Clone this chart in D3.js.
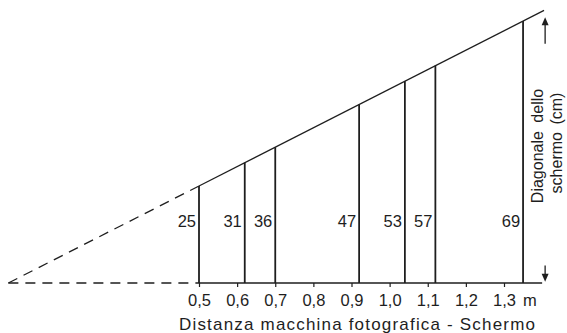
<!DOCTYPE html>
<html>
<head>
<meta charset="utf-8">
<script src="https://cdn.jsdelivr.net/npm/d3@7"></script>
<style>
  body { margin: 0; background: #fff; }
  text { font-family: "Liberation Sans", Arial, sans-serif; fill: #1e1e1e; }
</style>
</head>
<body>
<svg id="chart" width="567" height="333"></svg>
<script>
// distanza (m) e diagonale dello schermo (cm)
var distances = [0.5, 0.62, 0.7, 0.92, 1.04, 1.12, 1.35];
var diagonals = [25, 31, 36, 47, 53, 57, 69];

// tacche asse orizzontale
var tickValues = [0.5, 0.6, 0.7, 0.8, 0.9, 1.0, 1.1, 1.2, 1.3];
var tickLabels = ["0,5", "0,6", "0,7", "0,8", "0,9", "1,0", "1,1", "1,2", "1,3"];

// retta inclinata (origine -> fine)
var lineDist = [0, 1.405];
var lineDiag = [0, 71.8];

var svg = d3.select("#chart");
var ink = "#1e1e1e";

var x = d3.scaleLinear().domain([0.5, 1.3]).range([199, 504]);
var y = d3.scaleLinear().domain([0, 69]).range([283, 21]);
var slope = d3.scaleLinear().domain(lineDist).range(lineDiag);

/********** linee tratteggiate (prolungamento fino all'origine) **********/
svg.append("line")
    .attr("x1", x(0)).attr("y1", y(0))
    .attr("x2", x(distances[0])).attr("y2", y(slope(distances[0])))
    .attr("stroke", ink).attr("stroke-width", 1.3)
    .attr("stroke-dasharray", "10,7");

svg.append("line")
    .attr("x1", x(0)).attr("y1", y(0))
    .attr("x2", x(distances[0])).attr("y2", y(0))
    .attr("stroke", ink).attr("stroke-width", 1.3)
    .attr("stroke-dasharray", "10,7");

/********** linee continue **********/
svg.append("line")
    .attr("x1", x(distances[0])).attr("y1", y(slope(distances[0])))
    .attr("x2", x(lineDist[1])).attr("y2", y(lineDiag[1]))
    .attr("stroke", ink).attr("stroke-width", 1.3);

svg.append("line")
    .attr("x1", x(distances[0])).attr("y1", y(0))
    .attr("x2", x(1.4)).attr("y2", y(0))
    .attr("stroke", ink).attr("stroke-width", 1.3);

// verticali fino alla retta
svg.selectAll(".bar")
    .data(distances)
    .enter().append("line")
    .attr("class", "bar")
    .attr("x1", function(d) { return x(d); })
    .attr("x2", function(d) { return x(d); })
    .attr("y1", y(0))
    .attr("y2", function(d) { return y(slope(d)); })
    .attr("stroke", ink).attr("stroke-width", 1.8);

svg.selectAll(".val")
    .data(diagonals)
    .enter().append("text")
    .attr("class", "val")
    .attr("x", function(d, i) { return x(distances[i]) - 3; })
    .attr("y", 227)
    .attr("text-anchor", "end")
    .style("font-size", "16.5px")
    .text(function(d) { return d; });

/********** asse orizzontale **********/
var axis = d3.axisBottom(x)
    .tickValues(tickValues)
    .tickSize(4)
    .tickPadding(7)
    .tickFormat(function(d, i) { return tickLabels[i]; });

var gx = svg.append("g")
    .attr("transform", "translate(0," + y(0) + ")")
    .call(axis);
gx.select(".domain").remove();
gx.selectAll("line").attr("stroke", ink).attr("stroke-width", 1.2);
gx.selectAll("text")
    .style("font-size", "16.5px")
    .style("font-family", "\"Liberation Sans\", Arial, sans-serif")
    .attr("fill", ink);

svg.append("text")
    .attr("x", x(1.3) + 19)
    .attr("y", 306)
    .style("font-size", "16.5px")
    .text("m");

svg.append("text")
    .attr("x", 179)
    .attr("y", 330)
    .attr("textLength", 356)
    .attr("lengthAdjust", "spacing")
    .style("font-size", "17px")
    .text("Distanza macchina fotografica - Schermo");

/********** freccia e titolo verticale **********/
var ax = x(1.4) + 3;

function arrow(from, to) {
    var dir = to > from ? 1 : -1;
    svg.append("line")
        .attr("x1", ax).attr("y1", y(from))
        .attr("x2", ax).attr("y2", y(to) + dir * 6)
        .attr("stroke", ink).attr("stroke-width", 1.3);
    svg.append("path")
        .attr("d", "M" + ax + "," + y(to) +
                   "L" + (ax - 3.5) + "," + (y(to) + dir * 8) +
                   "L" + (ax + 3.5) + "," + (y(to) + dir * 8) + "Z")
        .attr("fill", ink);
}
arrow(63, 70);
arrow(4.6, 0.3);

svg.append("text")
    .attr("transform", "translate(543,146) rotate(-90)")
    .attr("text-anchor", "middle")
    .style("font-size", "16px")
    .style("word-spacing", "4px")
    .text("Diagonale dello");

svg.append("text")
    .attr("transform", "translate(562,143) rotate(-90)")
    .attr("text-anchor", "middle")
    .style("font-size", "16px")
    .style("word-spacing", "3px")
    .text("schermo (cm)");
</script>
</body>
</html>
